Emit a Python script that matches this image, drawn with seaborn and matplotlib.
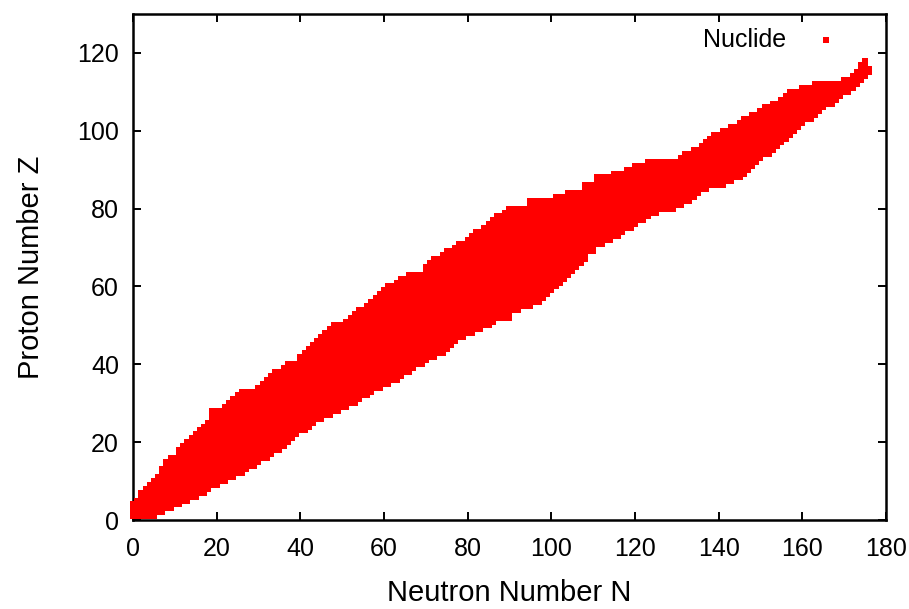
import numpy as np
import pandas as pd
import matplotlib
matplotlib.use("Agg")
import matplotlib.pyplot as plt
import seaborn as sns

# Neutron numbers 0..176 and the lowest / highest proton number drawn at each N
neutrons = list(range(0, 177))

z_low = [
    1, 1, 1, 1, 1, 1, 2, 2, 3, 3,
    4, 4, 5, 5, 6, 6, 7, 7, 8, 9,
    9, 10, 10, 11, 11, 12, 12, 13, 14, 14,
    15, 16, 16, 17, 18, 18, 19, 20, 21, 22,
    23, 23, 24, 25, 26, 26, 27, 27, 28, 28,
    29, 29, 30, 30, 31, 32, 32, 33, 34, 34,
    35, 35, 36, 36, 37, 38, 38, 39, 40, 40,
    41, 42, 42, 43, 43, 44, 45, 46, 47, 47,
    48, 48, 49, 49, 50, 50, 51, 52, 52, 52,
    52, 54, 54, 55, 55, 55, 56, 56, 57, 58,
    59, 60, 61, 62, 63, 64, 65, 66, 67, 69,
    69, 71, 71, 72, 72, 73, 73, 74, 75, 75,
    76, 77, 77, 78, 79, 79, 80, 80, 80, 80,
    81, 81, 82, 82, 83, 84, 85, 85, 86, 86,
    86, 86, 87, 87, 88, 88, 89, 90, 91, 92,
    93, 94, 94, 95, 96, 97, 98, 99, 100, 101,
    102, 103, 103, 104, 105, 106, 107, 107, 108, 109,
    110, 110, 111, 112, 113, 114, 115,
]

z_high = [
    4, 5, 7, 8, 9, 10, 11, 13, 15, 16,
    16, 18, 19, 20, 21, 22, 23, 24, 25, 28,
    28, 28, 29, 30, 31, 32, 33, 33, 33, 33,
    34, 35, 36, 37, 38, 38, 39, 40, 40, 40,
    42, 43, 44, 45, 46, 47, 48, 49, 50, 50,
    50, 51, 52, 53, 54, 54, 55, 56, 57, 58,
    59, 60, 60, 61, 62, 62, 63, 63, 63, 63,
    65, 66, 67, 67, 68, 69, 69, 70, 71, 71,
    72, 73, 74, 74, 75, 76, 77, 78, 78, 79,
    80, 80, 80, 80, 80, 82, 82, 82, 82, 82,
    82, 83, 83, 83, 84, 84, 84, 84, 86, 86,
    86, 88, 88, 88, 88, 89, 89, 89, 90, 90,
    91, 91, 91, 92, 92, 92, 92, 92, 92, 92,
    92, 93, 94, 94, 95, 95, 96, 97, 98, 99,
    99, 100, 100, 101, 101, 102, 103, 103, 104, 104,
    105, 106, 106, 107, 107, 108, 109, 110, 110, 110,
    111, 111, 111, 112, 112, 112, 112, 112, 112, 112,
    113, 113, 114, 115, 117, 118, 116,
]

# one row per nuclide
rows = []
for n, lo, hi in zip(neutrons, z_low, z_high):
    for z in range(lo, hi + 1):
        rows.append((n, z))
nuc = pd.DataFrame(rows, columns=["N", "Z"])

sns.set_style("ticks")
plt.rcParams["font.family"] = ["Liberation Sans", "DejaVu Sans"]
plt.rcParams["text.color"] = "black"
plt.rcParams["axes.labelcolor"] = "black"

fig = plt.figure(figsize=(9.09, 6.09), dpi=100)
ax = fig.add_axes([0.1463, 0.1461, 0.8284, 0.8309])

sns.scatterplot(data=nuc, x="N", y="Z", marker="s", s=17, color="#ff0000",
                linewidth=0, label="Nuclide", ax=ax, clip_on=False, zorder=3)

ax.set_xlim(0, 180)
ax.set_ylim(0, 130)
ax.set_xticks(np.arange(0, 181, 20))
ax.set_yticks(np.arange(0, 121, 20))
ax.tick_params(direction="in", length=6, width=1.4, top=True, right=True,
               labelsize=18, colors="black")
ax.tick_params(axis="x", pad=12)
ax.tick_params(axis="y", pad=10)
for sp in ax.spines.values():
    sp.set_linewidth(1.8)
    sp.set_color("black")
    sp.set_visible(True)

ax.set_xlabel("Neutron Number N", fontsize=21)
ax.set_ylabel("Proton Number Z", fontsize=21)
ax.xaxis.set_label_coords(0.5, -0.145)
ax.xaxis.label.set_va("center")
ax.yaxis.set_label_coords(-0.135, 0.5)
ax.yaxis.label.set_va("center")

ax.legend(loc="upper right", bbox_to_anchor=(0.95, 0.992), frameon=False,
          markerfirst=False, fontsize=18, markerscale=1.0, handlelength=1.0,
          handletextpad=1.1, borderaxespad=0)

fig.savefig("out.png", dpi=100)
